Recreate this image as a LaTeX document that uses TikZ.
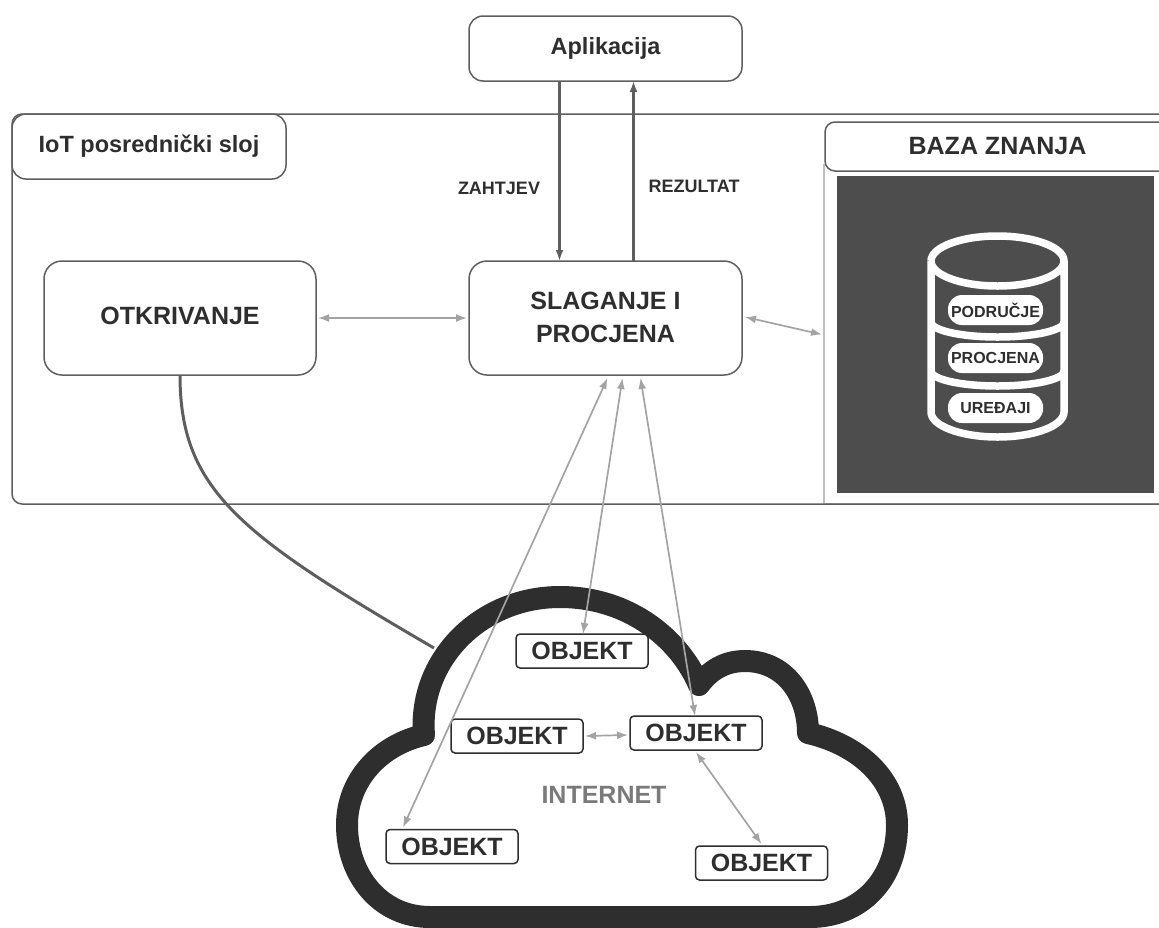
\documentclass[tikz,border=0pt]{standalone}
\usepackage{fontspec}
\setmainfont{Liberation Sans}
\usepackage{tikz}
\usetikzlibrary{positioning, arrows.meta}
\definecolor{ink}{HTML}{2E2E2E}
\definecolor{panelgray}{HTML}{4D4D4D}
\definecolor{arrowgray}{HTML}{A3A3A3}
\definecolor{edgegray}{HTML}{5E5E5E}
\newcommand{\fs}[1]{\fontsize{#1}{#1}\selectfont\bfseries}

\begin{document}
\begin{tikzpicture}[x=1pt, y=-1pt, >={Latex[length=11pt,width=8pt]}, outer sep=0pt, text=ink,
    bigbox/.style={draw=edgegray, line width=1.5pt, fill=white, rounded corners=18pt, align=center},
    objbox/.style={draw=ink, line width=1.5pt, fill=white, rounded corners=4pt, minimum width=132pt, minimum height=34pt, font=\fs{25}},
    pill/.style={fill=white, rounded corners=14pt, minimum width=95pt, minimum height=30pt, inner sep=0pt, font=\fs{16}},
    link/.style={<->, arrowgray, line width=1.7pt},
    flow/.style={->, edgegray, line width=2.2pt}]
       \useasboundingbox (0,0) rectangle (1159,927);

       % Knowledge panel
       \node[draw=black!25, line width=2.5pt, fill=white, minimum width=345pt, minimum height=339pt, anchor=north west] (panel) at (824,165) {};
       \node[fill=panelgray, minimum width=317pt, minimum height=317pt, anchor=north west] (dark) at (837,176) {};

       % Nodes
       \node[draw=edgegray, line width=1.5pt, rounded corners=10pt, minimum width=1170pt, minimum height=390pt, anchor=north west] (middleware) at (12,114) {};
       \node[bigbox, minimum width=274pt, minimum height=65pt, anchor=north west, rounded corners=14pt, font=\fs{23.5}] (title) at (12,114) {IoT posrednički sloj};
       \node[bigbox, minimum width=345pt, minimum height=49pt, anchor=north west, rounded corners=10pt, font=\fs{25}] (bazatitle) at (825,122) {BAZA ZNANJA};
       \node[bigbox, minimum width=273pt, minimum height=114pt, font=\fs{25}] (slaganje) at (605.5,318) {\raisebox{2pt}{SLAGANJE I}\\[8pt]\raisebox{2pt}{PROCJENA}};
       \node[bigbox, left=153pt of slaganje, minimum width=272pt, minimum height=114pt, font=\fs{25}] (otkrivanje) {\raisebox{4pt}{OTKRIVANJE}};
       \node[bigbox, above=180pt of slaganje, minimum width=273pt, minimum height=65pt, rounded corners=14pt, font=\fs{23.5}] (aplikacija) {\raisebox{-2pt}{Aplikacija}};
       \node[font=\fs{18}] (zahtjev) at (499,188) {ZAHTJEV};
       \node[font=\fs{18}] (rezultat) at (694,186) {REZULTAT};

       % Database
       \draw[white, line width=7.5pt]
           (931,261) -- (931,412) arc[start angle=180, end angle=360, x radius=66.5, y radius=-25] -- (1064,261)
           (931,261) arc[start angle=180, end angle=540, x radius=66.5, y radius=25]
           (931,322) arc[start angle=180, end angle=360, x radius=66.5, y radius=-15]
           (931,371) arc[start angle=180, end angle=360, x radius=66.5, y radius=-15];
       \node[pill] (podrucje) at (995.5,310) {PODRUČJE};
       \node[pill] (procjena) at (995.5,358) {PROCJENA};
       \node[pill] (uredjaji) at (995.5,408) {UREĐAJI};

       % Link to cloud, under its outline
       \coordinate (cloudedge) at (434,648);
       \draw[edgegray, line width=3pt] (otkrivanje.south)
           .. controls (180,490) and (240,535) .. (cloudedge);

       % Cloud
       \draw[ink, line width=22pt, line join=round]
           (430,917) .. controls (380,917) and (347,875) .. (347,825)
           .. controls (347,780) and (380,745) .. (424,735)
           .. controls (418,660) and (480,597) .. (560,597)
           .. controls (630,597) and (680,640) .. (699,685)
           .. controls (710,670) and (725,661) .. (745,661)
           .. controls (785,661) and (808,695) .. (808,733)
           .. controls (860,745) and (897,780) .. (897,825)
           .. controls (897,880) and (860,917) .. (810,917) -- cycle;

       \node[objbox] (obja) at (582,651) {OBJEKT};
       \node[objbox] (objb) at (517,736) {OBJEKT};
       \node[objbox] (objc) at (696,733) {OBJEKT};
       \node[objbox] (objd) at (452,846.5) {OBJEKT};
       \node[objbox] (obje) at (761.5,863) {OBJEKT};
       \node[font=\fs{25}, text=black!52] (internet) at (604,795) {INTERNET};

       % Arrows
       \draw[flow] ([xshift=-46pt]aplikacija.south) -- ([xshift=-46pt]slaganje.north);
       \draw[flow] ([xshift=28pt]slaganje.north) -- ([xshift=28pt]aplikacija.south);
       \draw[link] ([xshift=2pt]otkrivanje.east) -- ([xshift=-2pt]slaganje.west);
       \draw[link] ([xshift=3pt,yshift=1pt]slaganje.east) -- ([xshift=-2pt,yshift=0pt]panel.west);
       \draw[link] ([xshift=2pt,yshift=-3pt]slaganje.south) -- ([xshift=-49pt,yshift=2pt]objd.north);
       \draw[link] ([xshift=17pt,yshift=-3pt]slaganje.south) -- ([xshift=1pt]obja.north);
       \draw[link] ([xshift=35pt,yshift=-3pt]slaganje.south) -- ([xshift=-1pt]objc.north);
       \draw[link] ([xshift=2pt]objb.east) -- ([xshift=-2pt,yshift=-2pt]objc.west);
       \draw[link] ([yshift=-2pt]objc.south) -- ([yshift=2pt]obje.north);
\end{tikzpicture}
\end{document}
